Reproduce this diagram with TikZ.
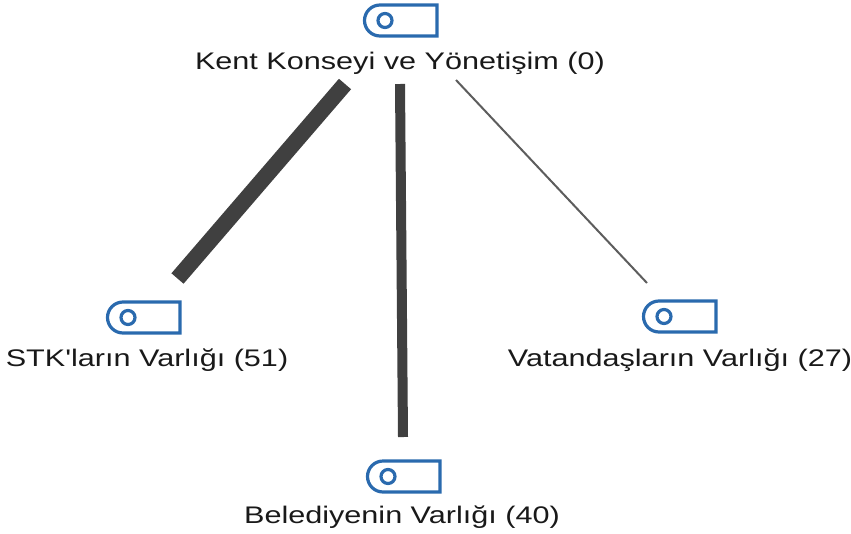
\documentclass[tikz,border=0pt]{standalone}
\usepackage{fontspec}
\setmainfont[FakeStretch=1.275,Ligatures=TeXOff]{Liberation Sans}
\definecolor{iconblue}{HTML}{2A6AAE}
\definecolor{linegray}{HTML}{404040}
\tikzset{
    LB/.style ={font=\fontsize{24}{28}\selectfont, inner sep=0pt, text=black!90},
    IC/.style ={draw=iconblue, line width=3.2pt},
    ED/.style ={draw=linegray}}

\begin{document}
\begin{tikzpicture}[x=1pt,y=-1pt]
        \useasboundingbox (0,0) rectangle (851,533);
        \foreach \x/\y in {364/5,107/302,367/461,643/301}{
            \draw[IC] (\x+73,\y)--(\x+16,\y) arc (270:90:15.5)--(\x+73,\y+31)--cycle;
            \draw[IC] (\x+21,\y+15.5) circle (7);}
        \node[LB] (kent) at (400,63){Kent Konseyi ve Yönetişim (0)};
        \node[LB] (stk) at (147,360){STK'ların Varlığı (51)};
        \node[LB] (bele) at (402,517){Belediyenin Varlığı (40)};
        \node[LB] (vat) at (680,360){Vatandaşların Varlığı (27)};
        \coordinate (kentA) at (345,84);
        \coordinate (kentB) at (400,84);
        \coordinate (kentC) at (456,80);
        \coordinate (stkT) at (177.5,278.5);
        \coordinate (beleT) at (403,437);
        \coordinate (vatT) at (647,283);
        \draw[ED,line width=16pt] (kentA)--(stkT);
        \draw[ED,line width=10pt] (kentB)--(beleT);
        \draw[ED,line width=2pt,draw=linegray!85] (kentC)--(vatT);
    \end{tikzpicture}
\end{document}
